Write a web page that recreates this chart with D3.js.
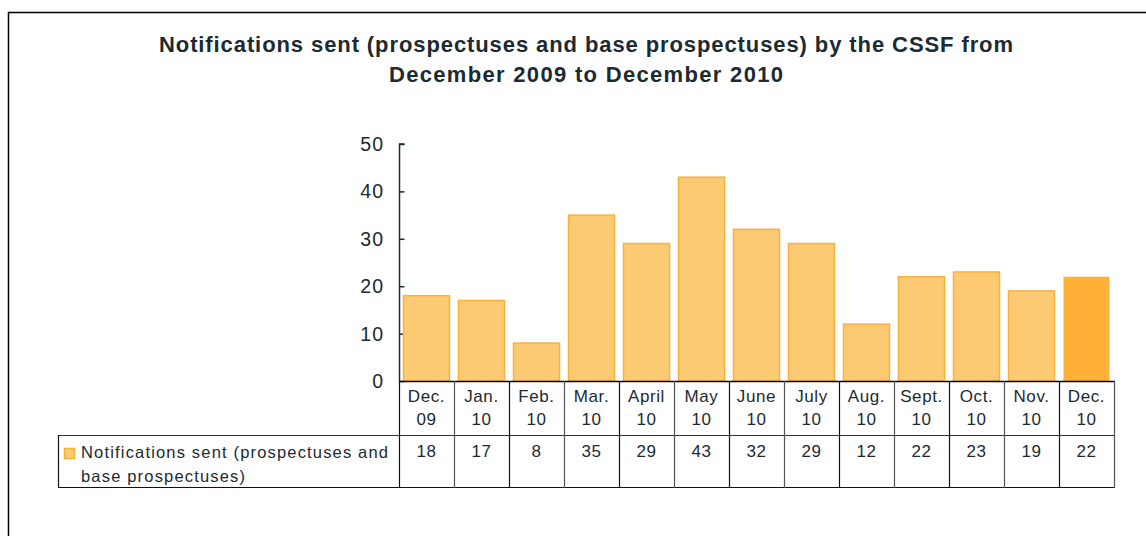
<!DOCTYPE html>
<html>
<head>
<meta charset="utf-8">
<script src="https://cdn.jsdelivr.net/npm/d3@7"></script>
<style>
  html, body { margin: 0; padding: 0; background: #fff; }
  svg { display: block; font-family: "Liberation Sans", Arial, sans-serif; }
</style>
</head>
<body>
<div id="chart"></div>
<script>
// ---------- data ----------
const monthTop = ["Dec.", "Jan.", "Feb.", "Mar.", "April", "May", "June", "July", "Aug.", "Sept.", "Oct.", "Nov.", "Dec."];
const monthYear = ["09", "10", "10", "10", "10", "10", "10", "10", "10", "10", "10", "10", "10"];
const values = [18, 17, 8, 35, 29, 43, 32, 29, 12, 22, 23, 19, 22];
const yTicks = [0, 10, 20, 30, 40, 50];
const seriesName = ["Notifications sent (prospectuses and", "base prospectuses)"];
const titleLines = ["Notifications sent (prospectuses and base prospectuses) by the CSSF from", "December 2009 to December 2010"];

const W = 1146, H = 536;
const ink = "#1c2a31";
const fillMain = "#fcca72", strokeMain = "#fbb03b", fillLast = "#ffb036";

const svg = d3.select("#chart").append("svg").attr("width", W).attr("height", H);

// outer frame (only top and left edges are visible)
svg.append("path").attr("d", `M8.5,${H} V12.5 H${W}`)
  .attr("fill", "none").attr("stroke", "#000").attr("stroke-width", 1.5);

// title
const titleW = [854, 394];
svg.append("g").selectAll("text").data(titleLines).enter().append("text")
  .attr("x", 586).attr("y", (d, i) => 52 + i * 30)
  .attr("text-anchor", "middle")
  .attr("textLength", (d, i) => titleW[i]).attr("lengthAdjust", "spacing")
  .attr("fill", ink)
  .style("font-size", "22px").style("font-weight", "bold")
  .text(d => d);

// scales
const idx = d3.range(values.length);
const tblL = 399, tblR = 1114;
const x = d3.scaleBand().domain(idx).range([tblL, tblR]);
const y = d3.scaleLinear().domain([0, 50]).range([381, 144]);
const bw = x.bandwidth();

// y axis (ticks point inward)
const yAxis = svg.append("g").attr("transform", "translate(399.5,0)")
  .call(d3.axisRight(y).tickValues(yTicks).tickSize(5).tickFormat(""));
yAxis.select(".domain").attr("stroke", ink).attr("stroke-width", 1.5).attr("d", "M5,144H0V381");
yAxis.selectAll(".tick line").attr("stroke", ink).attr("stroke-width", 1.5);
svg.append("g").selectAll("text").data(yTicks).enter().append("text")
  .attr("x", 384).attr("y", d => y(d) + 7)
  .attr("text-anchor", "end").attr("fill", ink)
  .style("font-size", "19.5px").style("letter-spacing", "1px")
  .text(d => d);

// bars
svg.append("g").selectAll("rect").data(values).enter().append("rect")
  .attr("x", (d, i) => x(i) + 4.5)
  .attr("width", bw - 9)
  .attr("y", d => y(d))
  .attr("height", d => y(0) - y(d))
  .attr("fill", (d, i) => i === values.length - 1 ? fillLast : fillMain)
  .attr("stroke", (d, i) => i === values.length - 1 ? "none" : strokeMain)
  .attr("stroke-width", 1.5);

// data table
const tbl = svg.append("g");
const rowTop = 381, rowMid = 435, rowBot = 487;
tbl.append("line").attr("x1", tblL).attr("x2", tblR + 1).attr("y1", rowTop + 0.5).attr("y2", rowTop + 0.5)
  .attr("stroke", "#000").attr("stroke-width", 1.5);
tbl.append("line").attr("x1", 58).attr("x2", tblR + 1).attr("y1", rowMid + 0.5).attr("y2", rowMid + 0.5)
  .attr("stroke", "#333").attr("stroke-width", 1.2);
tbl.append("line").attr("x1", 58).attr("x2", tblR + 1).attr("y1", rowBot + 0.5).attr("y2", rowBot + 0.5)
  .attr("stroke", "#111").attr("stroke-width", 1.2);
tbl.append("line").attr("x1", 58.5).attr("x2", 58.5).attr("y1", rowMid).attr("y2", rowBot + 1)
  .attr("stroke", "#111").attr("stroke-width", 1.2);
tbl.selectAll("line.sep").data(d3.range(values.length + 1)).enter().append("line")
  .attr("class", "sep")
  .attr("x1", i => Math.round(tblL + i * bw) + 0.5).attr("x2", i => Math.round(tblL + i * bw) + 0.5)
  .attr("y1", rowTop).attr("y2", rowBot + 1)
  .attr("stroke", i => i % 2 ? "#555" : "#111").attr("stroke-width", 1.2);

// category labels
const lab = tbl.append("g").selectAll("g").data(idx).enter().append("g")
  .style("font-size", "17px").style("letter-spacing", "0.6px").attr("fill", ink);
lab.append("text").attr("x", i => x(i) + bw / 2).attr("y", 402)
  .attr("text-anchor", "middle").text(i => monthTop[i]);
lab.append("text").attr("x", i => x(i) + bw / 2).attr("y", 425)
  .attr("text-anchor", "middle").text(i => monthYear[i]);

// values
tbl.append("g").selectAll("text").data(values).enter().append("text")
  .attr("x", (d, i) => x(i) + bw / 2).attr("y", 457)
  .attr("text-anchor", "middle").attr("fill", ink)
  .style("font-size", "17px").style("letter-spacing", "0.6px")
  .text(d => d);

// legend key in table
tbl.append("rect").attr("x", 64.5).attr("y", 448.5).attr("width", 10).attr("height", 10)
  .attr("fill", fillMain).attr("stroke", strokeMain).attr("stroke-width", 1.5);
const legW = [307, 164];
tbl.append("g").selectAll("text").data(seriesName).enter().append("text")
  .attr("x", 81).attr("y", (d, i) => 458 + i * 24)
  .attr("textLength", (d, i) => legW[i]).attr("lengthAdjust", "spacing")
  .attr("fill", ink).style("font-size", "16.5px")
  .text(d => d);
</script>
</body>
</html>
